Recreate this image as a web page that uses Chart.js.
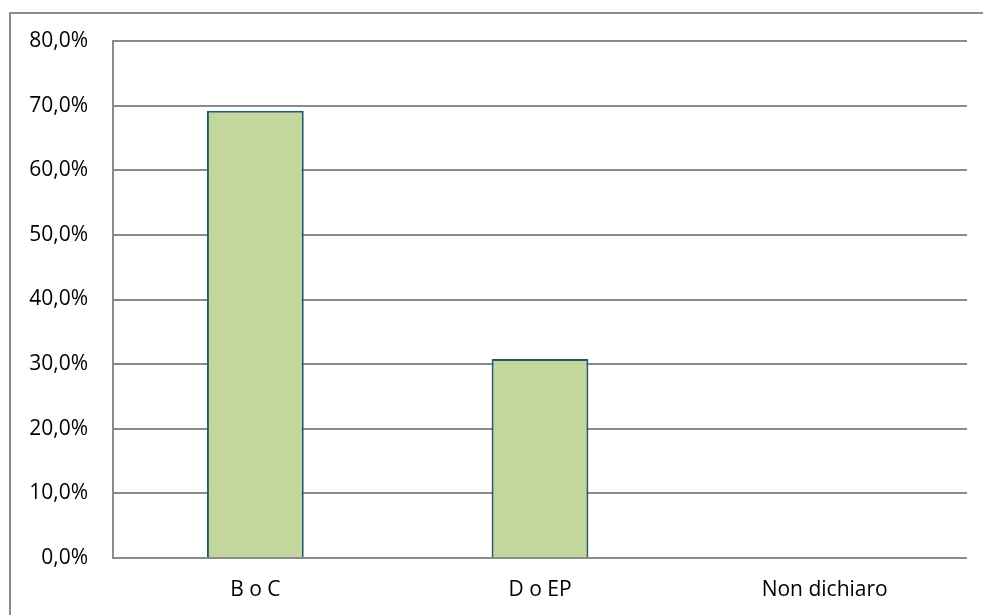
<!DOCTYPE html>
<html>
<head>
<meta charset="utf-8">
<script src="https://cdn.jsdelivr.net/npm/chart.js@4/dist/chart.umd.min.js"></script>
<style>
  html, body { margin: 0; padding: 0; background: #fff; }
  #wrap { width: 983px; height: 615px; position: relative; }
</style>
</head>
<body>
<div id="wrap"><canvas id="myChart" width="983" height="615"></canvas></div>
<script>
const categories = ['B o C', 'D o EP', 'Non dichiaro'];
const shares = [69.2, 30.8, 0];
const tickValues = [0, 10, 20, 30, 40, 50, 60, 70, 80];
const tickLabels = ['0,0%', '10,0%', '20,0%', '30,0%', '40,0%', '50,0%', '60,0%', '70,0%', '80,0%'];

// grey frame around the chart (like the Excel chart border)
const frame = {
  id: 'frame',
  beforeDraw(chart) {
    const c = chart.ctx;
    c.save();
    c.strokeStyle = '#8c8c8c';
    c.lineWidth = 2;
    c.strokeRect(10, 13, 1000, 700);
    c.restore();
  }
};

const ctx = document.getElementById('myChart').getContext('2d');
const myChart = new Chart(ctx, {
  type: 'bar',
  data: {
    labels: categories,
    datasets: [{
      data: shares,
      backgroundColor: '#c3d69b',
      borderColor: '#235a6a',
      borderWidth: 2,
      borderSkipped: 'bottom',
      barPercentage: 1,
      categoryPercentage: 0.34
    }]
  },
  options: {
    responsive: false,
    animation: false,
    layout: { padding: { left: 0, right: 16, top: 41, bottom: 0 } },
    plugins: { legend: { display: false }, tooltip: { enabled: false } },
    scales: {
      x: {
        grid: { display: false, drawTicks: false },
        border: { display: false },
        ticks: { color: '#000', padding: 19, font: { family: 'Open Sans', size: 21 } },
        afterFit(s) { s.height = 57; }
      },
      y: {
        min: 0,
        max: 80,
        afterBuildTicks(s) { s.ticks = tickValues.map(v => ({ value: v })); },
        grid: { color: '#8a8a8a', lineWidth: 2, drawTicks: false },
        border: { display: true, color: '#8a8a8a', width: 2 },
        ticks: {
          color: '#000',
          padding: 25,
          font: { family: 'Open Sans', size: 21 },
          callback: v => tickLabels[tickValues.indexOf(v)]
        },
        afterFit(s) { s.width = 113; }
      }
    }
  },
  plugins: [frame]
});
</script>
</body>
</html>
